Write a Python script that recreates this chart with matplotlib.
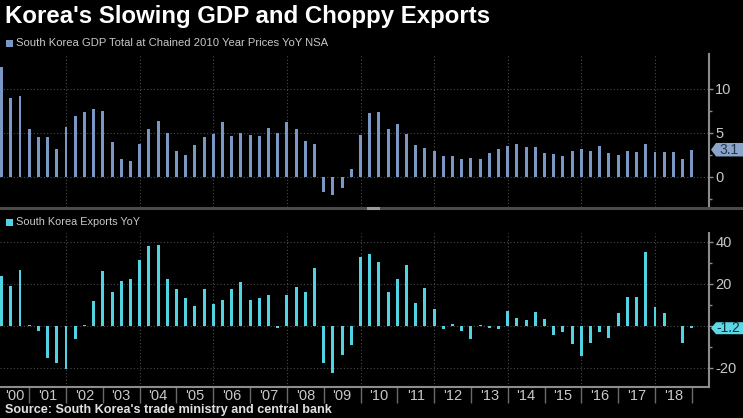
import matplotlib
matplotlib.use("Agg")
import matplotlib.pyplot as plt
from matplotlib.patches import Polygon, Rectangle
from matplotlib.lines import Line2D
from matplotlib.transforms import IdentityTransform
from matplotlib.ticker import FixedLocator

plt.rcParams['font.family'] = ['Liberation Sans', 'DejaVu Sans']
plt.rcParams['axes.unicode_minus'] = False

# ---------------- data ----------------
title = "Korea's Slowing GDP and Choppy Exports"
gdp_label = "South Korea GDP Total at Chained 2010 Year Prices YoY NSA"
exports_label = "South Korea Exports YoY"
source = "Source: South Korea's trade ministry and central bank"

years = list(range(2000, 2019))
year_labels = ["'00", "'01", "'02", "'03", "'04", "'05", "'06", "'07", "'08", "'09",
               "'10", "'11", "'12", "'13", "'14", "'15", "'16", "'17", "'18"]

gdp_yoy = [12.5, 8.95, 9.2, 5.5,
           4.5, 4.5, 3.2, 5.7,
           6.9, 7.4, 7.7, 7.5,
           4.0, 2.1, 1.8, 3.8,
           5.5, 6.4, 5.0, 3.0,
           2.5, 3.6, 4.5, 4.9,
           6.3, 4.7, 5.0, 4.8,
           4.7, 5.6, 5.0, 6.3,
           5.5, 4.1, 3.8, -1.7,
           -2.0, -1.2, 0.9, 4.8,
           7.3, 7.4, 5.4, 6.0,
           4.9, 3.6, 3.3, 3.0,
           2.4, 2.4, 2.1, 2.2,
           2.1, 2.7, 3.2, 3.5,
           3.8, 3.4, 3.4, 2.7,
           2.6, 2.4, 3.0, 3.2,
           3.0, 3.5, 2.7, 2.5,
           2.9, 2.8, 3.8, 2.8,
           2.8, 2.8, 2.0, 3.1]

exports_yoy = [23.7, 18.9, 26.5, 0.3,
               -2.4, -15.2, -17.9, -20.5,
               -6.2, 0.3, 11.6, 26.0,
               16.0, 21.3, 22.4, 31.3,
               37.8, 38.4, 22.4, 17.3,
               13.0, 9.5, 17.6, 10.3,
               12.1, 17.6, 21.0, 12.1,
               13.0, 14.4, -1.1, 14.8,
               18.3, 16.2, 27.5, -17.9,
               -22.7, -13.8, -9.4, 32.5,
               34.0, 30.2, 16.2, 22.2,
               28.9, 11.0, 17.8, 7.9,
               -1.7, 1.0, -2.4, -6.2,
               0.3, -1.1, -1.7, 7.0,
               3.5, 2.5, 6.3, 3.2,
               -4.6, -3.0, -8.6, -14.3,
               -8.3, -3.0, -6.0, 6.2,
               13.7, 13.7, 35.1, 8.9,
               6.0, -0.1, -8.1, -1.2]

gdp_yticks = [0, 5, 10]
gdp_yticklabels = ["0", "5", "10"]
gdp_yminor = [-2.5, 2.5, 7.5]
exp_yticks = [-20, 0, 20, 40]
exp_yticklabels = ["-20", "", "20", "40"]   # 0 label is covered by the value tag
exp_yminor = [-10, 10, 30]
gdp_tag = "3.1"
exp_tag = "-1.2"

# ---------------- style ----------------
GDP_C = "#7b98c4"
EXP_C = "#52d3e2"
GDP_TAG_C = "#8aa4ca"
EXP_TAG_C = "#5cd8e6"
TXT_C = "#c8c8c8"
SPINE_C = "#8c8c8c"
GRID_C = "#4a4a4a"

W, H = 743, 418
fig = plt.figure(figsize=(W / 100, H / 100), dpi=100, facecolor="black")

PX_YEAR = 36.81
X0 = 2000 + 7.6 / PX_YEAR
X1 = X0 + 709 / PX_YEAR


def fig_rect(l, t, r, b):
    return [l / W, 1 - b / H, (r - l) / W, (b - t) / H]


ax1 = fig.add_axes(fig_rect(0, 54, 709, 207))
ax2 = fig.add_axes(fig_rect(0, 233, 709, 386.7))

xq = [y + 0.25 * (q + 1) for y in years for q in range(4)]


def style(ax, ylim, yticks, ylabels, yminor, bottom):
    ax.set_facecolor("black")
    ax.set_xlim(X0, X1)
    ax.set_ylim(*ylim)
    ax.set_axisbelow(True)
    for s in ["top", "left"]:
        ax.spines[s].set_visible(False)
    ax.spines["bottom"].set_visible(bottom)
    for s in ["right", "bottom"]:
        ax.spines[s].set_color(SPINE_C)
        ax.spines[s].set_linewidth(1.5)
    ax.yaxis.tick_right()
    ax.set_yticks(yticks)
    ax.set_yticklabels(ylabels)
    ax.yaxis.set_minor_locator(FixedLocator(yminor))
    ax.tick_params(axis="y", which="major", direction="out", length=3, width=1,
                   colors=SPINE_C, labelcolor=TXT_C, labelsize=10.5, pad=1.5)
    ax.tick_params(axis="y", which="minor", direction="out", length=2.5, width=1,
                   colors=SPINE_C)
    ax.grid(axis="y", which="major", ls=(0, (1, 2)), color=GRID_C, lw=0.8)
    for yv in years:
        if yv % 2 == 0 and yv > 2000:
            ax.axvline(yv, ls=(0, (1, 2)), color=GRID_C, lw=0.8, zorder=0)


style(ax1, (-(207 - 177) / 8.8, (177 - 54) / 8.8), gdp_yticks, gdp_yticklabels,
      gdp_yminor, False)
style(ax2, (-(386.7 - 325.7) / 2.1, (325.7 - 233) / 2.1), exp_yticks, exp_yticklabels,
      exp_yminor, True)

ax1.set_xticks([])
ax2.set_xticks([y + 1 for y in years])
ax2.tick_params(axis="x", direction="out", length=11.5, width=1, color="#6a6a6a",
                labelbottom=False)

ax1.bar(xq, gdp_yoy, width=0.08, color=GDP_C, linewidth=0, zorder=3)
ax2.bar(xq, exports_yoy, width=0.08, color=EXP_C, linewidth=0, zorder=3)

# year labels
yl = -(396 - 386.7) / (386.7 - 233)
for y, lab in zip(years, year_labels):
    c = (max(y, X0) + y + 1) / 2
    ax2.text(c, yl, lab, transform=ax2.get_xaxis_transform(), ha="center", va="center",
             color=TXT_C, fontsize=10.5, clip_on=False)

renderer = fig.canvas.get_renderer()


def place_text(x_px, y_px, s, target_w, size0, **kw):
    t = fig.text(x_px / W, 1 - y_px / H, s, fontsize=size0, va="center", ha="left", **kw)
    w = t.get_window_extent(renderer).width
    t.set_fontsize(size0 * target_w / w)
    return t


place_text(5, 17, title, 488, 15, color="white", fontweight="bold")
place_text(16, 43, gdp_label, 309, 8.5, color=TXT_C)
place_text(16, 222, exports_label, 124, 8.5, color=TXT_C)
place_text(5, 410, source, 325, 8.5, color="#e0e0e0", fontweight="bold")

# legend squares
fig.add_artist(Rectangle((6 / W, 1 - 46.7 / H), 6.7 / W, 6.7 / H, transform=fig.transFigure,
                         color=GDP_C, lw=0))
fig.add_artist(Rectangle((6 / W, 1 - 225.5 / H), 6.7 / W, 6.7 / H, transform=fig.transFigure,
                         color=EXP_C, lw=0))

# panel separator
fig.add_artist(Line2D([0, 1], [1 - 208 / H] * 2, transform=fig.transFigure, lw=2.2,
                      color="#4a4a4a"))
fig.add_artist(Line2D([368 / W, 378 / W], [1 - 208 / H] * 2, transform=fig.transFigure,
                      lw=2.2, color="#9a9a9a"))


# value tags
def tag(ax, val, text, fc, tc, h):
    _, yd = ax.transData.transform((X1, val))
    xt, xl, xr = 711, 716, 743
    verts = [(xt, yd), (xl, yd + h / 2), (xr, yd + h / 2), (xr, yd - h / 2), (xl, yd - h / 2)]
    fig.add_artist(Polygon(verts, closed=True, transform=IdentityTransform(), fc=fc,
                           ec="none", zorder=10))
    fig.text(728.5 / W, yd / H, text, ha="center", va="center", color=tc, fontsize=10,
             zorder=11)


tag(ax1, gdp_yoy[-1], gdp_tag, GDP_TAG_C, "#26344a", 13.5)
tag(ax2, exports_yoy[-1], exp_tag, EXP_TAG_C, "#0e3036", 12)

fig.savefig("out.png", dpi=100, facecolor="black")
